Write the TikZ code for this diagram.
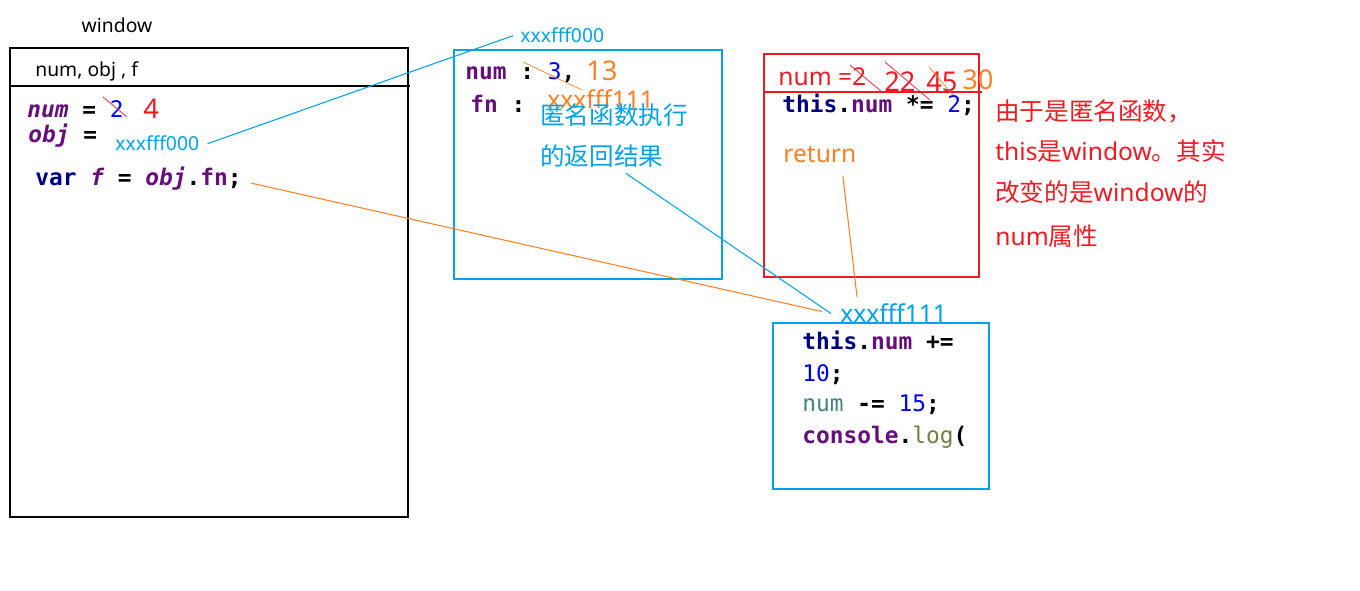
\documentclass[tikz,border=0pt]{standalone}
\usepackage{fontspec}
\setmainfont{Noto Sans}
\newfontfamily\cjk{Noto Sans CJK SC}
\newfontfamily\codefont{DejaVu Sans Mono}
\definecolor{paintblue}{HTML}{00A2E8}
\definecolor{paintred}{HTML}{ED1C24}
\definecolor{paintorange}{HTML}{FF7F27}
\definecolor{kwnavy}{HTML}{000080}
\definecolor{varpurple}{HTML}{660E7A}
\definecolor{numblue}{HTML}{0000FF}
\definecolor{localteal}{HTML}{458383}
\definecolor{fnolive}{HTML}{7A7A43}
\newcommand\kw[1]{\textcolor{kwnavy}{#1}}
\newcommand\vr[1]{\textcolor{varpurple}{#1}}
\newcommand\vri[1]{\textcolor{varpurple}{\itshape #1}}
\newcommand\nm[1]{\textcolor{numblue}{\mdseries #1}}
\tikzset{
  codetext/.style={anchor=base west, inner sep=0pt, font=\codefont\bfseries\fontsize{13}{15}\selectfont\frenchspacing},
  smalltext/.style={anchor=base west, inner sep=0pt, font=\fontsize{11}{13}\selectfont},
  bigtext/.style={anchor=base west, inner sep=0pt, font=\fontsize{14}{16}\selectfont},
  digittext/.style={anchor=base west, inner sep=0pt, font=\fontsize{15.5}{17}\selectfont},
  wire/.style={line width=0.6pt},
  strikeline/.style={line width=0.4pt},
}
\begin{document}
\begin{tikzpicture}[x=0.02cm, y=-0.02cm]
  \useasboundingbox (0,0) rectangle (1360,591);
  % window scope
  \node[smalltext, anchor=base] (wintitle) at (117,33) {window};
  \draw[line width=1.7pt] (10,48) rectangle (408,517);
  \draw[wire] (10,86) -- (410,86);
  \node[smalltext] (winvars) at (35,77) {num, obj , f};
  \node[codetext] (wnum) at (27,118) {\vri{num} = \nm{2}};
  \node[digittext, text=paintred] (wnumnew) at (143,119) {4};
  \draw[strikeline, paintred] (103,97) -- (127,117);
  \node[codetext] (wobj) at (28,143) {\vri{obj} =};
  \node[smalltext, text=paintblue] (wobjaddr) at (115,151) {xxxfff000};
  \node[codetext] (wvarf) at (35,186) {\kw{var} \vri{f} = \vri{obj}.\vr{fn};};

  % object
  \node[smalltext, text=paintblue] (addr0) at (520,43) {xxxfff000};
  \draw[paintblue, wire] (454,50) rectangle (722,279);
  \node[codetext] (onum) at (465,80) {\vr{num} : \nm{3},};
  \node[digittext, text=paintorange] (onumnew) at (586,81) {13};
  \draw[strikeline, paintorange] (523,62) -- (582,90);
  \node[codetext] (ofn) at (470,113) {\vr{fn} :};
  \node[bigtext, text=paintorange] (ofnaddr) at (547,109) {xxxfff111};
  \node[bigtext, text=paintblue, font=\cjk\fontsize{14}{16}\selectfont] (fnnote1) at (540,125) {匿名函数执行};
  \node[bigtext, text=paintblue, font=\cjk\fontsize{14}{16}\selectfont] (fnnote2) at (540,166) {的返回结果};

  % fn call
  \draw[paintred, wire] (764,54) rectangle (979,277);
  \draw[paintred, wire] (764,92) -- (982,92);
  \node[bigtext, text=paintred] (rnum) at (778,86) {num =2};
  \node[digittext, text=paintred] (r22) at (884,92) {22};
  \node[digittext, text=paintred] (r45) at (926,92) {45};
  \node[digittext, text=paintorange] (r30) at (962,90) {30};
  \draw[strikeline, paintred] (850,65) -- (882,92);
  \draw[strikeline, paintred] (885,62) -- (930,100);
  \draw[strikeline, paintorange] (929,67) -- (953,95);
  \node[codetext] (rthis) at (782,113) {\kw{this}.\vr{num} *= \nm{2};};
  \node[bigtext, text=paintorange] (rret) at (783,163) {return};
  \node[bigtext, text=paintred] (rnote1) at (995,121) {\cjk 由于是匿名函数，};
  \node[bigtext, text=paintred] (rnote2) at (995,161) {this{\cjk 是}window{\cjk 。其实}};
  \node[bigtext, text=paintred] (rnote3) at (995,202) {{\cjk 改变的是}window{\cjk 的}};
  \node[bigtext, text=paintred] (rnote4) at (995,246) {num{\cjk 属性}};

  % returned fn
  \node[bigtext, text=paintblue] (addr1) at (840,323) {xxxfff111};
  \draw[paintblue, wire] (773,323) rectangle (989,489);
  \node[codetext] (fthis) at (802,350) {\kw{this}.\vr{num} +=};
  \node[codetext] (ften) at (802,381) {\nm{10};};
  \node[codetext] (fnum) at (802,412) {\textcolor{localteal}{\mdseries num} -= \nm{15};};
  \node[codetext] (flog) at (802,443) {\vr{console}.\textcolor{fnolive}{\mdseries log}(};

  % links
  \draw[wire, paintblue] ([xshift=0.16cm]wobjaddr.east) -- ([xshift=-0.14cm]addr0.west);
  \draw[wire, paintblue] ([xshift=0.48cm,yshift=-0.1cm]fnnote2.south) -- ([xshift=-0.18cm]addr1.west);
  \draw[wire, paintorange] ([xshift=0.18cm,yshift=-0.08cm]wvarf.east) -- ([xshift=-0.36cm,yshift=0.04cm]addr1.west);
  \draw[wire, paintorange] ([xshift=0.46cm,yshift=-0.24cm]rret.south) -- ([xshift=0.34cm,yshift=0.14cm]addr1.north west);
\end{tikzpicture}
\end{document}
